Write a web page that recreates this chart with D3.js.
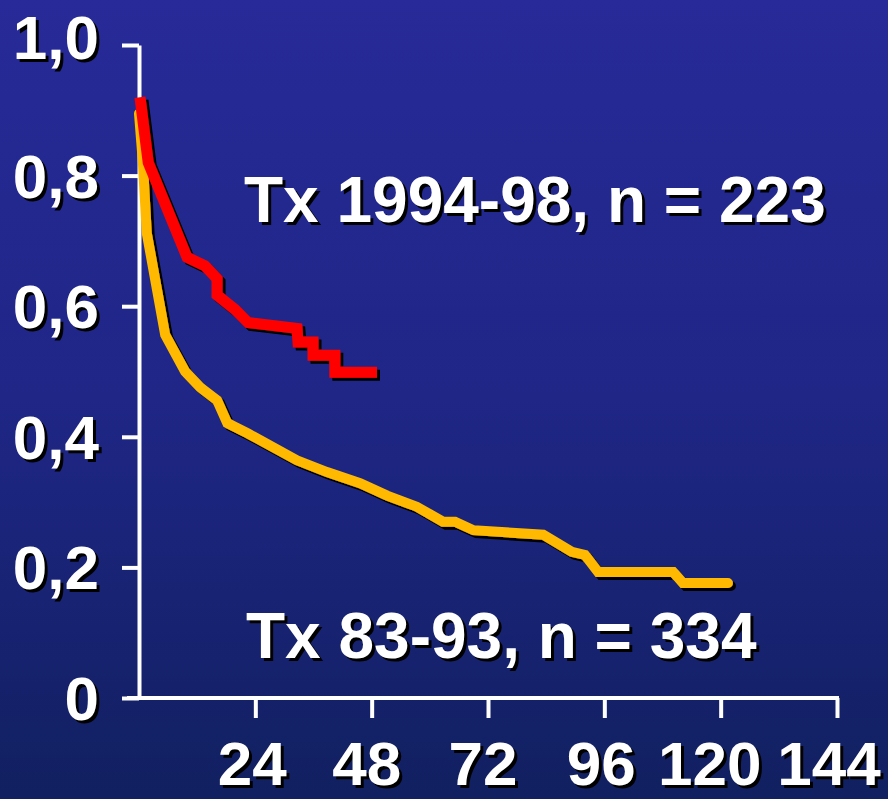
<!DOCTYPE html>
<html>
<head>
<meta charset="utf-8">
<script src="https://cdn.jsdelivr.net/npm/d3@7"></script>
<style>
  html, body { margin: 0; padding: 0; background: #1c247e; }
  svg { display: block; }
  text { font-family: "Liberation Sans", Arial, Helvetica, sans-serif; font-weight: bold; }
</style>
</head>
<body>
<svg id="chart" width="888" height="799"></svg>
<script>
// Survival after transplantation, by era (months on x, proportion surviving on y)
const months1994 = [0.2, 1.9, 9.9, 13.6, 16.1, 16.1, 19.8, 22.5, 32.6, 32.8, 35.9, 35.9, 40.4, 40.4, 49.1];
const surv1994   = [0.92, 0.82, 0.675, 0.662, 0.642, 0.617, 0.595, 0.575, 0.566, 0.545, 0.545, 0.525, 0.525, 0.499, 0.499];

const months1983 = [0, 0.8, 1.6, 5.4, 9.5, 12.6, 16.1, 18.2, 22.5, 32.6, 38.8, 45.6, 51.2, 57.3, 62.7, 65.2, 69, 83.4, 89.3, 92, 94.7, 110.2, 112.2, 121.5];
const surv1983   = [0.895, 0.82, 0.712, 0.556, 0.50, 0.476, 0.456, 0.421, 0.405, 0.364, 0.346, 0.329, 0.31, 0.293, 0.27, 0.27, 0.257, 0.25, 0.224, 0.219, 0.193, 0.193, 0.176, 0.176];

const xTicks = [24, 48, 72, 96, 120, 144];
const yTicks = [0, 0.2, 0.4, 0.6, 0.8, 1.0];
const yTickLabels = ["0", "0,2", "0,4", "0,6", "0,8", "1,0"];
const seriesLabels = ["Tx 1994-98, n = 223", "Tx 83-93, n = 334"];

const svg = d3.select("#chart");
const W = 888, H = 799;

const defs = svg.append("defs");

// Background gradient
const grad = defs.append("linearGradient").attr("id", "bg").attr("x1", 0).attr("y1", 0).attr("x2", 0).attr("y2", 1);
grad.append("stop").attr("offset", "0%").attr("stop-color", "#272a98");
grad.append("stop").attr("offset", "50%").attr("stop-color", "#1f2686");
grad.append("stop").attr("offset", "100%").attr("stop-color", "#112060");
svg.append("rect").attr("width", W).attr("height", H).attr("fill", "url(#bg)");

// Hard black drop shadow for the curves
const shadow = defs.append("filter").attr("id", "shadow")
  .attr("x", "-10%").attr("y", "-10%").attr("width", "130%").attr("height", "140%");
shadow.append("feDropShadow").attr("dx", 3).attr("dy", 3).attr("stdDeviation", 0)
  .attr("flood-color", "#000").attr("flood-opacity", 1);

const x = d3.scaleLinear().domain([0, 144]).range([139, 837]);
const y = d3.scaleLinear().domain([0, 1]).range([698, 45]);

const FONT = 62;

// White text over a black copy offset down and to the right
function shadowText(g, txt, px, py, anchor, size) {
  g.append("text").attr("x", px + 3).attr("y", py + 3).attr("text-anchor", anchor)
    .attr("font-size", size).attr("fill", "#000").text(txt);
  g.append("text").attr("x", px).attr("y", py).attr("text-anchor", anchor)
    .attr("font-size", size).attr("fill", "#fff").text(txt);
}

// Y axis
const yAxis = d3.axisLeft(y).tickValues(yTicks).tickSize(17).tickSizeOuter(0).tickFormat(() => "");
const gy = svg.append("g").attr("transform", `translate(${x(0)},0)`).call(yAxis);
gy.select(".domain").attr("stroke", "#fff").attr("stroke-width", 4);
gy.selectAll(".tick line").attr("stroke", "#fff").attr("stroke-width", 4);

// X axis
const xAxis = d3.axisBottom(x).tickValues(xTicks).tickSize(20).tickSizeOuter(0).tickFormat(() => "");
const gx = svg.append("g").attr("transform", `translate(0,${y(0)})`).call(xAxis);
gx.select(".domain").attr("stroke", "#fff").attr("stroke-width", 4)
  .attr("d", `M${x(0) - 12},0H${x(144) + 2}`);
gx.selectAll(".tick line").attr("stroke", "#fff").attr("stroke-width", 4);

// Tick labels
const labelLayer = svg.append("g");
yTicks.forEach((v, i) => {
  const nudge = v === 1 ? -8 : 0;
  shadowText(labelLayer, yTickLabels[i], 99, y(v) + 22 + nudge, "end", FONT);
});
const xNudge = {24: -3, 48: -5, 72: -5, 96: -3, 120: -11, 144: -8};
xTicks.forEach(m => {
  shadowText(labelLayer, String(m), x(m) + xNudge[m], 785, "middle", FONT);
});

// Survival curves
const line = d3.line().x(d => x(d[0])).y(d => y(d[1]));
const data1983 = months1983.map((m, i) => [m, surv1983[i]]);
const data1994 = months1994.map((m, i) => [m, surv1994[i]]);

function curve(data, color, width, cap) {
  svg.append("path").datum(data).attr("d", line)
    .attr("filter", "url(#shadow)")
    .attr("fill", "none").attr("stroke", color).attr("stroke-width", width)
    .attr("stroke-linecap", cap);
}
curve(data1983, "#ffb900", 10, "round");
curve(data1994, "#ff0000", 11, "butt");

// Series annotations
const notes = svg.append("g");
shadowText(notes, seriesLabels[0], 244, 222, "start", 64);
shadowText(notes, seriesLabels[1], 246, 658, "start", 64);
</script>
</body>
</html>
